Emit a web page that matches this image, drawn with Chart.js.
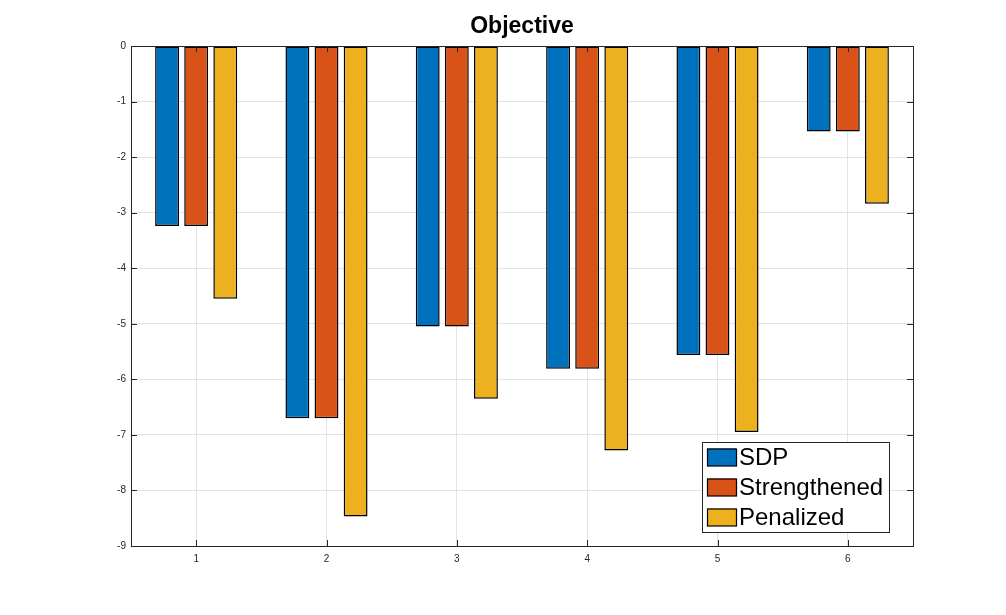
<!DOCTYPE html>
<html>
<head>
<meta charset="utf-8">
<script src="https://cdn.jsdelivr.net/npm/chart.js@4/dist/chart.umd.min.js"></script>
<style>
html,body{margin:0;padding:0;background:#fff;}
#wrap{width:1006px;height:615px;position:relative;}
</style>
</head>
<body>
<div id="wrap"><canvas id="c" width="1006" height="615"></canvas></div>
<script>
const categories = ['1','2','3','4','5','6'];
const sdpValues = [-3.24, -6.70, -5.05, -5.81, -5.56, -1.54];
const strengthenedValues = [-3.24, -6.70, -5.05, -5.81, -5.56, -1.54];
const penalizedValues = [-4.55, -8.47, -6.35, -7.28, -6.95, -2.84];
const yTicks = [0, -1, -2, -3, -4, -5, -6, -7, -8, -9];
const seriesNames = ['SDP', 'Strengthened', 'Penalized'];
const seriesColors = ['#0072BD', '#D95319', '#EDB120'];
const chartTitle = 'Objective';

const AXIS = '#262626';
const FONT = '"Liberation Sans", Arial, Helvetica, sans-serif';

const framePlugin = {
  id: 'frame',
  afterDatasetsDraw(chart) {
    const {ctx, chartArea: a, scales} = chart;
    ctx.save();
    ctx.strokeStyle = AXIS;
    ctx.lineWidth = 1;
    ctx.beginPath();
    const tl = 6;
    scales.y.ticks.forEach((t, i) => {
      const y = Math.round(scales.y.getPixelForTick(i)) + 0.5;
      ctx.moveTo(a.left, y); ctx.lineTo(a.left + tl, y);
      ctx.moveTo(a.right, y); ctx.lineTo(a.right - tl, y);
    });
    scales.x.ticks.forEach((t, i) => {
      const x = Math.round(scales.x.getPixelForTick(i)) + 0.5;
      ctx.moveTo(x, a.bottom); ctx.lineTo(x, a.bottom - tl);
      ctx.moveTo(x, a.top); ctx.lineTo(x, a.top + tl);
    });
    ctx.stroke();
    ctx.strokeRect(Math.round(a.left) + 0.5, Math.round(a.top) + 0.5, Math.round(a.right - a.left), Math.round(a.bottom - a.top));
    // title
    ctx.fillStyle = '#000';
    ctx.font = 'bold 23px ' + FONT;
    ctx.textAlign = 'center';
    ctx.textBaseline = 'middle';
    ctx.fillText(chartTitle, (a.left + a.right) / 2, 27);
    // legend
    const lx = 702, ly = 442, lw = 187, lh = 90;
    ctx.fillStyle = '#fff';
    ctx.fillRect(lx, ly, lw, lh);
    ctx.strokeStyle = AXIS;
    ctx.strokeRect(lx + 0.5, ly + 0.5, lw, lh);
    ctx.font = '24px ' + FONT;
    ctx.textAlign = 'left';
    chart.data.datasets.forEach((ds, i) => {
      const sy = 448.5 + i * 30;
      ctx.fillStyle = ds.backgroundColor;
      ctx.fillRect(707, sy, 29, 17.5);
      ctx.strokeStyle = '#000';
      ctx.lineWidth = 1.2;
      ctx.strokeRect(707.5, sy + 0.5, 29, 17);
      ctx.fillStyle = '#000';
      ctx.fillText(ds.label, 739, sy + 10);
    });
    ctx.restore();
  }
};

new Chart(document.getElementById('c'), {
  type: 'bar',
  data: {
    labels: categories,
    datasets: [
      {label: seriesNames[0], data: sdpValues, backgroundColor: seriesColors[0]},
      {label: seriesNames[1], data: strengthenedValues, backgroundColor: seriesColors[1]},
      {label: seriesNames[2], data: penalizedValues, backgroundColor: seriesColors[2]}
    ].map(d => Object.assign(d, {borderColor: '#000', borderWidth: 1.5, borderSkipped: false, categoryPercentage: 0.67, barPercentage: 0.82}))
  },
  options: {
    responsive: false,
    animation: false,
    devicePixelRatio: 1,
    layout: {padding: {top: 46, right: 93, left: 0, bottom: 0}},
    plugins: {legend: {display: false}, title: {display: false}, tooltip: {enabled: false}},
    scales: {
      x: {
        offset: true,
        grid: {color: '#e3e3e3', drawTicks: false, offset: false},
        border: {display: false},
        ticks: {color: AXIS, font: {family: FONT, size: 10}, padding: 7, maxRotation: 0},
        afterFit: s => { s.height = 69; }
      },
      y: {
        min: -9, max: 0,
        afterBuildTicks: s => { s.ticks = yTicks.map(v => ({value: v})); },
        grid: {color: '#e3e3e3', drawTicks: false},
        border: {display: false},
        ticks: {color: AXIS, font: {family: FONT, size: 10}, padding: 5},
        afterFit: s => { s.width = 131; }
      }
    }
  },
  plugins: [framePlugin]
});
</script>
</body>
</html>
